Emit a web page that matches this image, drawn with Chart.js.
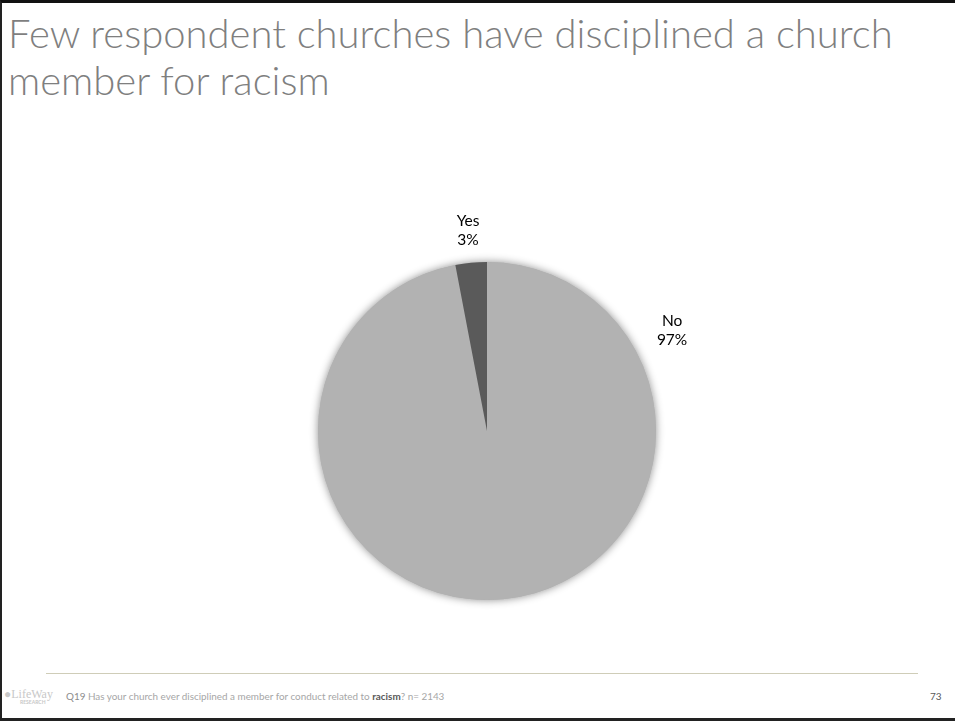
<!DOCTYPE html>
<html>
<head>
<meta charset="utf-8">
<script src="https://cdn.jsdelivr.net/npm/chart.js@4"></script>
<style>
  html, body { margin: 0; padding: 0; background: #fff; }
  body { width: 955px; height: 721px; position: relative; overflow: hidden; font-family: Lato, "Open Sans", sans-serif; }
  .frame { position: absolute; left: 0; top: 0; width: 955px; height: 721px;
           border-top: 3px solid #111; border-left: 2px solid #222; border-bottom: 3px solid #222;
           box-sizing: border-box; }
  h1 { position: absolute; left: 8px; top: 10px; margin: 0; width: 940px;
       font-weight: 300; font-size: 40px; line-height: 47px; color: #7f7f7f; }
  #chartBox { position: absolute; left: 187px; top: 181px; width: 600px; height: 500px; }
  .rule { position: absolute; left: 46px; top: 673px; width: 872px; height: 1px; background: #cfcdb8; }
  .note { position: absolute; left: 66px; top: 690px; font-size: 9.9px; color: #a6a6a6; white-space: nowrap; }
  .note .q { color: #8c8c8c; }
  .note b { color: #595959; }
  .page { position: absolute; left: 930px; top: 690px; font-size: 10px; color: #595959; }
  .logo { position: absolute; left: 4px; top: 688px; color: #c8c8c8; font-family: "Liberation Serif", serif; line-height: 1; }
  .logo .l1 { font-size: 12px; }
  .logo .l2 { font-size: 5px; font-family: Lato, sans-serif; font-weight: bold; margin-left: 16px; }
</style>
</head>
<body>
<div class="frame"></div>
<h1>Few respondent churches have disciplined a church member for racism</h1>
<div id="chartBox"><canvas id="pie"></canvas></div>
<div class="rule"></div>
<div class="logo"><div class="l1">&#9679;LifeWay</div><div class="l2">RESEARCH</div></div>
<div class="note"><span class="q">Q19</span> Has your church ever disciplined a member for conduct related to <b>racism</b>? n= 2143</div>
<div class="page">73</div>

<script>
// Datos del gráfico
const categorias = ["No", "Yes"];
const porcentajes = [97, 3];
const colores = ["#b2b2b2", "#5a5a5a"];

// Sombra suave detrás del pastel
const sombraPlugin = {
  id: "sombra",
  beforeDatasetsDraw(chart) {
    const arc = chart.getDatasetMeta(0).data[0];
    if (!arc) return;
    const ctx = chart.ctx;
    ctx.save();
    ctx.shadowColor = "rgba(0,0,0,0.45)";
    ctx.shadowBlur = 9;
    ctx.fillStyle = "#b2b2b2";
    ctx.beginPath();
    ctx.arc(arc.x, arc.y, arc.outerRadius, 0, Math.PI * 2);
    ctx.fill();
    ctx.restore();
  },
};

// Etiquetas fuera del pastel (categoría + porcentaje)
const etiquetasPlugin = {
  id: "etiquetas",
  afterDatasetsDraw(chart, args, opts) {
    const meta = chart.getDatasetMeta(0);
    const ctx = chart.ctx;
    ctx.save();
    ctx.font = "15.5px Lato, 'Open Sans', sans-serif";
    ctx.fillStyle = "#000";
    ctx.textAlign = "center";
    ctx.textBaseline = "middle";
    meta.data.forEach((arc, i) => {
      const pos = opts.posiciones[i];
      // ángulo medido desde la parte superior, sentido horario
      const ang = pos.angulo != null
        ? (pos.angulo * Math.PI) / 180 - Math.PI / 2
        : (arc.startAngle + arc.endAngle) / 2;
      const r = arc.outerRadius * pos.distancia;
      const x = arc.x + Math.cos(ang) * r;
      const y = arc.y + Math.sin(ang) * r;
      ctx.fillText(categorias[i], x, y - 9.5);
      ctx.fillText(porcentajes[i] + "%", x, y + 9.5);
    });
    ctx.restore();
  },
};

new Chart(document.getElementById("pie"), {
  type: "pie",
  data: {
    labels: categorias,
    datasets: [
      {
        data: porcentajes,
        backgroundColor: colores,
        borderWidth: 0,
      },
    ],
  },
  options: {
    responsive: true,
    maintainAspectRatio: false,
    animation: false,
    layout: { padding: { top: 81, bottom: 81, left: 131, right: 131 } },
    plugins: {
      legend: { display: false },
      tooltip: { enabled: false },
      etiquetas: {
        posiciones: [
          { angulo: 61.6, distancia: 1.245 },
          { angulo: null, distancia: 1.19 },
        ],
      },
    },
  },
  plugins: [sombraPlugin, etiquetasPlugin],
});
</script>
</body>
</html>
